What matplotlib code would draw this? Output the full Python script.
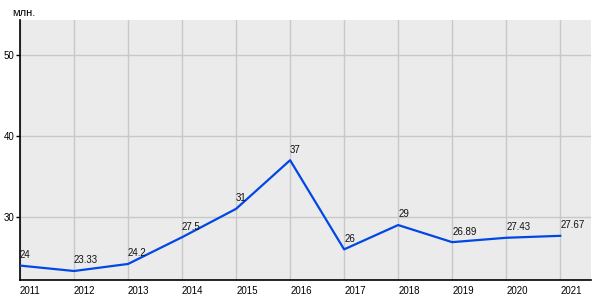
import matplotlib
matplotlib.use('Agg')
from matplotlib import pyplot as plt

years = [2011, 2012, 2013, 2014, 2015, 2016, 2017, 2018, 2019, 2020, 2021]
values = [24, 23.33, 24.2, 27.5, 31, 37, 26, 29, 26.89, 27.43, 27.67]
labels = ['24', '23.33', '24.2', '27.5', '31', '37', '26', '29', '26.89', '27.43', '27.67']
yticks = [30, 40, 50]

plt.rcParams['font.family'] = ['Liberation Sans', 'DejaVu Sans']
plt.rcParams['font.size'] = 7

fig = plt.figure(figsize=(6, 3), dpi=100)
ax = fig.add_axes([20/600, 20/300, 571/600, 260/300])
ax.set_facecolor('#ebebeb')

ax.plot(years, values, color='#0047e6', linewidth=1.6, zorder=3)
for x, y, s in zip(years, values, labels):
    ax.annotate(s, (x, y), xytext=(0, 4), textcoords='offset points',
                ha='left', va='bottom', fontsize=7, color='#111111', zorder=4)

ax.set_xlim(2011, 2021.57)
ax.set_ylim(22.22, 54.3)
ax.set_xticks(years)
ax.set_xticklabels([str(y) for y in years], ha='left')
ax.set_yticks(yticks)
ax.grid(True, color='#c8c8c8', linewidth=1)
ax.set_axisbelow(True)

for side in ['top', 'right']:
    ax.spines[side].set_visible(False)
ax.spines['left'].set_linewidth(1.2)
ax.spines['bottom'].set_linewidth(1.2)
ax.tick_params(axis='x', length=0, pad=4, labelsize=7)
ax.tick_params(axis='y', length=3, width=1, pad=1, labelsize=7)

fig.text(12/600, 1 - 13.5/300, 'млн.', fontsize=8, ha='left', va='center')

plt.savefig('out.png', dpi=100)
